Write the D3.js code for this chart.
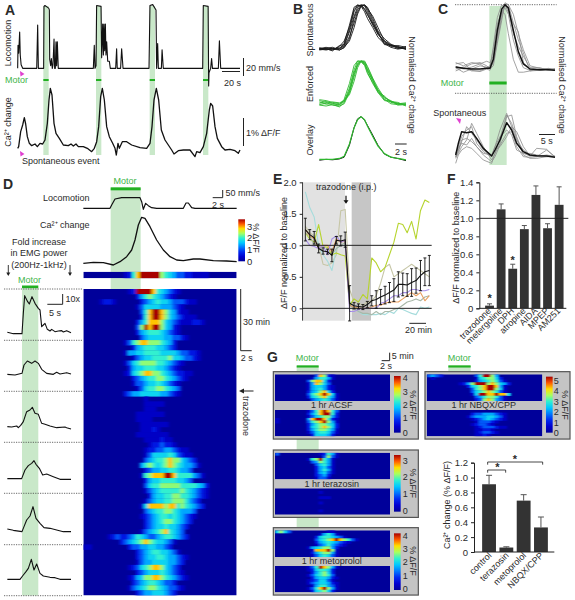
<!DOCTYPE html>
<html><head><meta charset="utf-8">
<script src="https://cdn.jsdelivr.net/npm/d3@7"></script>
<style>body{margin:0;background:#fff}text{font-family:"Liberation Sans",Arial,sans-serif;fill:#2a2a2a}</style>
</head><body><script>
// ---- A: [time s, mm/s] and [sample, amplitude]
const locoA=[[0,0],[.4,26],[1.2,17],[2.3,41],[3,15],[4,4],[5.8,0],[22,0],[23.1,49],[23.9,0],[28.9,0],[30,0],[30.4,70],[31.5,71],[35.8,68],[36.6,66],[37,10],[38.1,3],[38.9,11],[40,0],[40.8,4],[42,33],[42.7,0],[43.5,0],[44.3,30],[45,3],[45.8,30],[46.9,0],[87.4,0],[88.5,26],[89.3,0],[90.5,3],[91.2,71],[96.3,70],[97,12],[98.2,50],[99,15],[99.7,50],[100.5,20],[101.3,50],[102,15],[102.8,30],[104,8],[105.9,8],[107,0],[113.2,0],[114.3,22],[115,0],[118.9,0],[120.1,22],[121.7,0],[151.7,0],[152.8,71],[156,72],[159.8,66],[160.5,0],[161.7,28],[162.5,0],[166,0],[166.8,21],[168.2,0],[213.7,0],[214.4,71],[220,70],[220.6,-20],[221,-5],[222.9,0],[224,11],[225,0],[231.8,0],[233,31],[234.5,0],[256.8,0]];
const caA=[[0,-5],[3,0],[9,45],[15,65],[20,87],[24,68],[29,30],[35,10],[42,3],[52,8],[59,0],[67,10],[75,8],[82,20],[89,70],[94,140],[98,175],[103,155],[109,70],[115,40],[125,25],[137,5],[152,3],[160,8],[167,2],[175,8],[182,0],[197,0],[209,-5],[222,-15],[230,-5],[237,15],[243,60],[249,150],[254,175],[260,140],[267,60],[275,30],[285,10],[292,-5],[296,-25],[301,10],[305,-5],[314,15],[327,15],[342,5],[367,-3],[387,-5],[397,10],[403,60],[409,140],[416,175],[423,140],[431,50],[442,20],[452,5],[462,-10],[469,-22],[482,-12],[497,-10],[517,-10],[532,-30],[537,-15],[547,-18],[557,0],[567,40],[575,110],[579,130],[585,122],[592,60],[599,25],[612,0],[622,-10],[637,-8],[652,-12],[662,-20],[667,-10]];
const motorA=[[130,146],[288,304],[449,465],[609,625]];
// ---- B
const tB=[-7.26,-6.1,-5,-3.8,-3,-2.1,-1.3,-.7,-.1,.5,1,1.9,2.8,3.9,5,6.2,7.6];
const spont1=[.02,0,.03,.05,.1,.4,.75,.95,1,.98,.85,.6,.4,.15,.1,.05,.04];
const spont2=[.04,.03,.02,0,.05,.25,.7,.9,1,1,.9,.65,.35,.2,.1,.08,.02];
const spont3=[0,.02,0,.08,.2,.5,.9,.98,1,.92,.8,.55,.35,.18,.08,.1,.06];
const spont4=[.03,.06,.02,.03,.08,.3,.6,.85,.98,1,.92,.75,.5,.2,.12,.03,.08];
const spont5=[.05,.01,.04,.02,.15,.55,.95,1,.97,.85,.7,.5,.28,.14,.06,.02,.05];
const spont6=[.02,.04,.06,0,.06,.2,.5,.8,.97,1,.95,.7,.42,.25,.13,.07,.01];
const spont7=[.01,.03,-.02,.1,.12,.45,.85,1,.98,.9,.78,.58,.38,.12,.11,.06,.03];
const enf1=[.12,.08,.02,0,.05,.3,.7,.95,1,.95,.75,.5,.3,.12,.1,.05,.02];
const enf2=[.06,.1,.06,.03,.1,.4,.8,1,1,.92,.8,.55,.35,.2,.1,.06,.04];
const enf3=[.02,0,.03,-.02,.08,.35,.75,.9,1,.98,.85,.6,.3,.22,.08,.05,.07];
const enf4=[.14,.12,.08,.05,.12,.25,.55,.85,1,1,.88,.62,.4,.18,.12,.02,.03];
const enf5=[.09,.04,.05,.02,.15,.5,.9,1,.98,.9,.72,.52,.33,.15,.05,.03,.05];
const enf6=[.03,.06,.09,.07,.12,.3,.65,.92,1,.96,.8,.58,.36,.14,.1,.08,0];
const overBlack=[.01,.03,.02,.04,.08,.35,.75,.95,1,.92,.8,.58,.35,.15,.08,.05,0];
const overGreen=[.03,.03,.03,.05,.1,.38,.75,.93,1,.93,.78,.55,.33,.16,.08,.05,.02];
// ---- C
const tCt=[497,520,545,570,590,600,610,622,635,645,655,670,685,700,720,750,775,795];
const cTopMean=[.03,.01,0,0,.01,.01,.15,.6,.93,1,.95,.6,.27,.08,0,-.01,-.01,-.02];
const cTop1=[.1,.05,.1,.08,0,.02,.35,.8,1,.95,.85,.45,.2,.02,-.02,-.02,0,0];
const cTop2=[.02,-.05,0,.05,.03,.02,.1,.45,.8,1,1,.85,.55,.3,.05,.01,0,-.02];
const cTop3=[0,.03,-.03,-.03,.02,.05,.3,.7,.9,.85,.55,.15,-.05,-.05,-.03,0,0,-.02];
const cTop4=[-.03,.02,.08,.1,.05,0,.05,.4,.75,1.03,1,.72,.45,.25,-.03,-.02,0,0];
const cTop5=[.04,0,.03,.08,.12,.1,.2,.55,.88,1,.88,.7,.58,.1,0,-.01,.01,-.02];
const cTop6=[.08,.1,-.02,-.04,0,-.02,.12,.5,.85,.98,.92,.55,.35,.2,.02,.02,-.02,0];
const tCb=[497,505,515,530,545,560,580,605,615,630,650,665,680,700,720,740,770,795];
const cBotMean=[.05,.4,.75,.72,.75,.55,.25,.02,.2,.5,1.02,.8,.4,.15,.05,.03,.02,-.02];
const cBot1=[0,.3,.6,.8,.9,.4,.15,0,.3,.8,1.3,.9,.5,.2,.05,0,.2,0];
const cBot2=[-.05,.1,.3,.5,1,.7,.3,-.1,.1,.4,1.2,1.25,.6,.1,.02,.25,.22,-.02];
const cBot3=[-.02,.2,.5,.55,.45,.3,.05,-.15,0,.35,.7,.75,.3,0,-.02,0,.05,0];
const cBot4=[.1,.25,.4,.35,.55,.3,.1,.05,.3,.6,.8,.65,.2,.1,.1,.05,.02,0];
const cBot5=[-.2,.05,.2,.3,.25,.1,-.1,-.2,.1,.55,1.25,1,.55,.05,-.05,-.05,0,0];
const cBot6=[0,.15,.45,.9,.7,.5,.2,.05,.2,.3,.6,.9,.75,.3,.02,.02,0,.02];
// ---- D
const locoD=[[0,0],[80,0],[85,10],[95,28],[115,32],[170,32],[175,20],[180,-3],[187,15],[195,8],[205,2],[220,0],[300,0],[308,16],[315,16],[325,2],[335,0],[460,0]];
const caD=[[0,0],[30,3],[60,2],[90,-5],[110,5],[130,20],[145,40],[155,70],[165,115],[175,138],[185,135],[200,110],[220,70],[240,40],[260,20],[280,10],[300,8],[330,13],[350,13],[390,8],[430,7],[460,5]];
const stripD="00000000001268999997654332211110000000";
const emg1=[[0,4],[18,0],[44,0],[48,61],[52,114],[61,96],[66,89],[74,111],[83,91],[93,76],[98,71],[103,21],[108,26],[113,31],[120,13],[128,8],[133,13],[143,6],[153,8],[163,9],[168,5],[178,9],[191,3]];
const emg2=[[0,2],[23,0],[44,5],[50,30],[60,42],[73,35],[83,42],[93,35],[103,17],[118,5],[138,2],[148,8],[158,3],[178,7],[191,3]];
const emg3=[[0,3],[13,2],[28,5],[33,0],[40,7],[48,18],[58,48],[68,53],[75,61],[83,43],[93,40],[103,13],[113,10],[128,5],[148,0],[173,2],[178,0],[191,-4]];
const emg4=[[0,2],[43,2],[53,28],[63,41],[73,48],[80,56],[86,45],[96,33],[106,13],[118,16],[138,8],[158,0],[191,0]];
const emg5=[[0,8],[18,4],[44,0],[50,15],[58,35],[68,47],[77,75],[86,40],[98,25],[110,12],[128,10],[148,5],[168,0],[191,0]];
const emg6=[[0,0],[38,0],[48,13],[56,23],[63,33],[72,60],[80,28],[88,46],[98,18],[108,10],[128,6],[143,5],[158,0],[191,0]];
const emgBase=[161,285,443,598,755,898];
const heatD=["000000000001299998654321","00000000000002467654321","00001221000000234565543332110","000000000000013555544432100","00000000000000368998754211","0000000000000026899875432111","00000000000002468887543211122100","000000000000037989975421","00000000000002456665432100","00000000000000345555443321","00000000001367887776542","00000000000024566655432","000000000014455666655554332210","00000000000013455666675543321","0000000000135677776654321","000000000002455666554321","000000000012567887765432211","00000000000023456677654321","0000000000001334556543210","000000000000013566776543","000000000023445555544321","00000000000000010000000000","0000000000000001111100","000000000000000111","000000000000011111110","00000000000001111","000000000000001111111","0000000000000011121","000000000000011111111","0000000000000001111211","00000000000000001223221","00000000000000012233443211","000000000000000135555653211","0000000000000003456678775432","00000000000000467656787654431","000000000000000234455665443","000000000000001678889986666431","000000000000000245566665543","0000000000000003566777776666542","00000000000000013456666676543210","0000000000000000245566776654321","00000000000000013455667776432","000000000000001588887886765432","0000000000000003456677654443","0000000000000012345665654321","000000000000000234567765432","00000000000000023455655432","0000000000000013456786543","00000012322346543345665432","00000000023456787655431","1100000000023344554432","000000000000023456655431","00000000000002345566544321","0000000000000134455554432","000000000001235678875432","0000000000000234555654321","00000000000124577887654321","00000000000023456654332","0000000000013456776543321","00000000000002344555432"];
// ---- E
const meanE=[1.25,1.17,1.12,.95,.91,.90,.84,1.08,1.07,1.09,.08,.04,.03,.02,.06,.12,.14,.18,.21,.25,.29,.38,.38,.37,.41,.44,.52,.58,.60];
const errE=[.18,.08,.1,.07,.05,.04,.1,.06,.08,.12,.28,.05,.04,.04,.05,.08,.14,.12,.14,.16,.18,.2,.18,.18,.22,.2,.24,.22,.24];
const lineLime=[1.2,1.1,1.05,1.33,.98,.97,.85,.88,.85,.83,.05,.15,.1,.22,.15,.8,.72,.58,.65,.85,1.05,1.35,1.33,1.2,1.38,1.1,1.55,1.72,1.68];
const lineSand=[1.3,1.2,1.15,1,.7,.68,.72,.85,1.55,1.57,.3,.1,.08,.05,.1,.12,.2,.4,.65,.7,.5,.55,.6,.65,.7,.65,.6,.55,.5];
const lineCyan=[1.85,1.6,1.45,1,.85,.75,.6,.95,1,1,.1,0,-.05,-.1,-.1,-.1,-.1,-.08,-.1,-.05,-.08,0,-.02,-.05,-.08,-.1,.02,0,.02];
const lineOrange=[1.25,1.15,1.1,.95,1,1,.9,1.1,1.05,1.07,.05,.02,0,0,0,.02,.05,.05,.08,.1,.1,.1,.15,.2,.25,.2,.25,.12,.2];
const linePurple=[1.1,1,.98,.95,1,.85,1.1,1.15,1.05,1.08,-.05,-.05,-.02,0,0,0,0,.08,.1,.15,.2,.2,.25,.25,.3,.3,.28,.28,.3];
const lineSage=[1.2,1.15,1,1,.9,.9,.85,.95,1,1.05,.05,0,-.05,-.08,-.08,-.1,-.05,-.1,-.05,-.05,-.02,0,.05,.1,.12,.15,.12,.18,.2];
const ticksE=[0,.5,1,1.5,2];
// ---- F
const catsF=["trazodone","metergoline","DPH","atropine","AIDA","MPEP","AM251"];
const valsF=[.03,1.10,.44,.88,1.26,.89,1.15];
const topsF=[.05,1.16,.49,.92,1.36,.94,1.35];
const ticksF=[0,.2,.4,.6,.8,1,1.2,1.4];
// ---- G
const catsG=["control","terazosin","metoprolol","NBQX/CPP"];
const valsG=[.91,.06,.69,.33];
const topsG=[1.03,.07,.77,.47];
const ticksG=[0,.2,.4,.6,.8,1,1.2];
const acsfTop=["00000000003872100","00000000014664100","00000000378852000","00000000148753000","00000000145542100","00000000145642100","00000000245785200","00000000367898510","00000000256786410","00000000034565310"];
const acsfBot=["00000000136898630","00000000246899620","00000000135677420","10000000489986210","10000000367897410","00000000246776520","00000000256787520","00000000246776410","00000000135665310","00000000025554200"];
const nbqxTop=["34320000000036997400000","01000000000015677520000","00000000000024567631000","00000000124799978754200","00000000002567899841000","00000000000367899751000","00000000000356787631000","00000000000159988988500","00000000000034677631000","00000000000023787431000"];
const nbqxBot=["0","00000000000233444321000","00000000001344455431000","00000000000123454321000","00000000000013332100000","00000000000123321000","00000000000012333211000","00000000000011221000","00000000000012332100","00000000000011210000"];
const teraTop=["30000000000126410","00000000000037310","00000000167964100","00000000034764100","00000000003564100","00000000002453100","00000000002464100","00000000002453100","00000000002342000","00000000001331000"];
const teraBot=["0","00000000000100","0","000000000001110","0","00000000000100","0","0","000000000001","0"];
const metoTop=["57530000000001100","00000000000146410","00000000002566543100","00000000003567898763100","00000000002456543210","00000000001346432100","00000000145677420","00000000018889710","00000000024677410","00000000013565310"];
const metoBot=["00000000136987410","00000000125665200","00000000024675200","00000000135676300","00000000024554210","00000000123553100","00000000134554210","00000000014664310","00000000136897410","00000000025675200"];
const levelMap=[0,.8,1.6,2.6,3.6,4.3,5,5.8,7.2,9];

// ---- helpers
const LG="#c9e8c9", MG="#22b022", MT="#3fb54a", MA="#e040d0";
const svg=d3.select("body").append("svg").attr("width",575).attr("height",600);
const jet=d3.scaleLinear().domain([0,1,2,3,4,5,6,7,8,9]).range(["#00009a","#0000d0","#0028f0","#0078ff","#00c8ff","#30f0d0","#a8ff60","#ffe000","#ff5a00","#a80000"]).clamp(true);
const txt=(x,y,s,o={})=>{const t=svg.append("text").attr("x",x).attr("y",y).text(s).attr("font-size",o.size||9).attr("text-anchor",o.anchor||"start");
  if(o.rot!==undefined)t.attr("transform",`rotate(${o.rot} ${x} ${y})`);if(o.color)t.style("fill",o.color);if(o.bold)t.attr("font-weight","bold");return t;};
const vtxt=(x,y,s,o={})=>txt(x,y,s,{anchor:"middle",rot:-90,...o});
const dtxt=(x,y,s,o={})=>txt(x,y,s,{anchor:"middle",rot:90,...o});
const seg=(x1,y1,x2,y2,c="#222",w=1,dash)=>{const l=svg.append("line").attr("x1",x1).attr("y1",y1).attr("x2",x2).attr("y2",y2).attr("stroke",c).attr("stroke-width",w);if(dash)l.attr("stroke-dasharray",dash);return l;};
const box=(x,y,w,h,c)=>svg.append("rect").attr("x",x).attr("y",y).attr("width",w).attr("height",h).attr("fill",c);
const trace=(data,xs,ys,c="#111",w=1)=>svg.append("path").attr("fill","none").attr("stroke",c).attr("stroke-width",w).attr("stroke-linejoin","round").attr("d",d3.line().x(d=>xs(d[0])).y(d=>ys(d[1]))(data));
const tri=(x,y,pts)=>svg.append("path").attr("fill",MA).attr("d",d3.line()(pts.map(p=>[x+p[0],y+p[1]]))+"Z");
const defs=svg.append("defs");
let uid=0;
function heat(rows,x0,y0,w,h,cols,sd){
  const id="h"+(++uid);
  defs.append("clipPath").attr("id","c"+id).append("rect").attr("x",x0).attr("y",y0).attr("width",w).attr("height",h);
  defs.append("filter").attr("id","f"+id).attr("x","-5%").attr("y","-5%").attr("width","110%").attr("height","110%").append("feGaussianBlur").attr("stdDeviation",sd);
  const cx=d3.scaleBand().domain(d3.range(cols)).range([x0,x0+w]);
  const cy=d3.scaleBand().domain(d3.range(rows.length)).range([y0,y0+h]);
  const outer=svg.append("g").attr("clip-path",`url(#c${id})`);
  outer.append("rect").attr("x",x0).attr("y",y0).attr("width",w).attr("height",h).attr("fill",jet(0));
  const g=outer.append("g").attr("filter",`url(#f${id})`);
  rows.forEach((r,i)=>{r.padEnd(cols,"0").split("").forEach((c,j)=>{ if(c==="0")return;
    g.append("rect").attr("x",cx(j)).attr("y",cy(i)).attr("width",cx.bandwidth()+.6).attr("height",cy.bandwidth()+.3).attr("fill",jet(levelMap[+c]));});});
}
function cbar(x,y,w,h){
  const id="g"+(++uid);
  const gr=defs.append("linearGradient").attr("id",id).attr("x1",0).attr("y1",1).attr("x2",0).attr("y2",0);
  d3.range(10).forEach(i=>gr.append("stop").attr("offset",i/9).attr("stop-color",jet(i)));
  svg.append("rect").attr("x",x).attr("y",y).attr("width",w).attr("height",h).attr("fill",`url(#${id})`);
}

// ---- A
const ax=d3.scaleLinear().domain([0,256.8]).range([53/3,240]);
const ay=d3.scaleLinear().domain([0,20]).range([205/3,205/3-17.7]);
const ax2=d3.scaleLinear().domain([0,667]).range([53/3,240]);
const ay2=d3.scaleLinear().domain([0,85]).range([440/3,355/3]);
motorA.forEach(([a,b])=>{box(a/3,6,(b-a)/3,149,LG);box(a/3,79,(b-a)/3,2,MG);});
trace(locoA,ax,ay,"#111",1.1);
trace(caA,ax2,ay2,"#111",1.3);
txt(5,15,"A",{size:14,bold:true});
vtxt(11,43,"Locomotion");vtxt(11,122,"Ca²⁺ change");
txt(5,83,"Motor",{color:MT});
txt(22,164,"Spontaneous event");
txt(246,71,"20 mm/s");txt(224,86,"20 s");txt(246,136,"1% ΔF/F");
seg(243.5,58,243.5,76);seg(222,71.5,240,71.5);seg(243.5,118,243.5,146);
tri(20,71,[[0,0],[4.5,3],[0.5,5.5]]);tri(20,151,[[0,0],[4.5,3],[0.5,5.5]]);

// ---- B
const X=z=>290+z/3;
const bx=d3.scaleLinear().domain([-7.26,7.6]).range([X(88),X(348)]);
const yb=(b,p)=>d3.scaleLinear().domain([0,1]).range([b/3,p/3]);
const by1=yb(150,15),by2=yb(318,183),by3=yb(482,350);
const Z=(t,v)=>d3.zip(t,v);
[spont1,spont2,spont3,spont4,spont5,spont6,spont7].forEach(s=>trace(Z(tB,s),bx,by1,"#1a1a1a",.9));
[enf1,enf2,enf3,enf4,enf5,enf6].forEach(s=>trace(Z(tB,s),bx,by2,"#2eb82e",.9));
trace(Z(tB,overBlack),bx,by3,"#111",1);trace(Z(tB,overGreen),bx,by3,"#2eb82e",1.2);
txt(293,14,"B",{size:14,bold:true});
vtxt(X(70),30,"Spontaneous");vtxt(X(70),84,"Enforced");vtxt(X(70),140,"Overlay");
dtxt(X(358),85,"Normalised Ca²⁺ change");
seg(X(315),144,X(350),144);txt(X(315),155,"2 s");

// ---- C
box(X(598),6,(650-598)/3,159,LG);
seg(X(495),4.7,X(800),4.7,"#444",.8,"1.2 1.2");seg(X(495),93.3,X(800),93.3,"#444",.8,"1.2 1.2");
const cx=d3.scaleLinear().domain([497,795]).range([X(497),X(795)]);
const cy1=d3.scaleLinear().domain([0,1]).range([207/3,14/3]);
const cy2=d3.scaleLinear().domain([0,1]).range([470/3,370/3]);
[cTop1,cTop2,cTop3,cTop4,cTop5,cTop6].forEach(s=>trace(Z(tCt,s),cx,cy1,"#8c8c8c",.8));
trace(Z(tCt,cTopMean),cx,cy1,"#111",1.5);
[cBot1,cBot2,cBot3,cBot4,cBot5,cBot6].forEach(s=>trace(Z(tCb,s),cx,cy2,"#8c8c8c",.8));
trace(Z(tCb,cBotMean),cx,cy2,"#111",1.5);
box(X(598),81.5,(650-598)/3,3,MG);
txt(438,14,"C",{size:14,bold:true});
txt(X(452),86,"Motor",{color:MT});
txt(X(430),116,"Spontaneous");
tri(X(498),118,[[0,0],[5,1],[4,6]]);
dtxt(X(808),85,"Normalised Ca²⁺ change");
seg(X(747),134.5,X(795),134.5);txt(X(752),144,"5 s");

// ---- D top
const DY=z=>175+z/3;
box(332/3,DY(40),30,DY(342)-DY(40),LG);
box(332/3,DY(37),30,3,MG);
txt(125,184,"Motor",{color:MT,anchor:"middle"});
txt(3,189,"D",{size:14,bold:true});
const dx=d3.scaleLinear().domain([0,460]).range([250/3,710/3]);
const dyL=d3.scaleLinear().domain([0,32]).range([DY(100),DY(68)]);
const dyC=d3.scaleLinear().domain([0,138]).range([DY(265),DY(127)]);
trace(locoD,dx,dyL,"#111",1.2);trace(caD,dx,dyC,"#111",1.3);
txt(43,201,"Locomotion");txt(40,228,"Ca²⁺ change");
txt(39,245,"Fold increase",{anchor:"middle"});
txt(39,256,"in EMG power",{anchor:"middle"});
txt(39,268,"(200Hz-1kHz)",{anchor:"middle"});
const arrow=(x,y1,y2)=>{seg(x,y1,x,y2-1,"#222",.9);svg.append("path").attr("fill","#222").attr("d",d3.line()([[x-2,y2-3.5],[x+2,y2-3.5],[x,y2]])+"Z");};
arrow(8.3,265,276);arrow(70,265,276);
seg(222.7,DY(45),222.7,DY(68));seg(212.7,DY(68),222.7,DY(68));
txt(225.5,196,"50 mm/s");txt(212,208,"2 s");
cbar(238.3,219.3,6.7,42);
[["3",230],["2",241],["1",253],["0",265]].forEach(([s,y])=>txt(247,y,s,{size:9.5}));
dtxt(253,238,"% ΔF/F",{size:9});
heat([stripD],250/3,DY(290),460/3,20/3,38,"1.2 0");

// ---- D left + main heat
box(22,288,16.3,307.5,LG);
box(22,285.5,16.3,2.6,MG);
txt(29.5,283,"Motor",{color:MT,anchor:"middle"});
[289,340.3,391.3,442.3,493.3,544.7,595.7].forEach(y=>seg(4,y,83,y,"#444",.8,"1.2 1.2"));
const ex=d3.scaleLinear().domain([0,191]).range([22/3,213/3]);
[emg1,emg2,emg3,emg4,emg5,emg6].forEach((e,i)=>{
  const ey=d3.scaleLinear().domain([0,31]).range([280+emgBase[i]/3,280+(emgBase[i]-31)/3]);
  trace(e,ex,ey,"#111",1.1);
});
seg(188/3,294,188/3,304.3);seg(142/3,304.3,188/3,304.3);
txt(65.5,302,"10x");txt(49,316,"5 s");
heat(heatD,250/3,289,460/3,306.5,38,"1.5 0.6");
seg(240.7,289,240.7,350.7);seg(240.7,350.7,251.7,350.7);
txt(243,325,"30 min");txt(240.7,361,"2 s");
seg(243,391,253.5,391,"#222",1);svg.append("path").attr("fill","#222").attr("d",d3.line()([[239,391],[244,388.5],[244,393.5]])+"Z");
dtxt(243,416,"trazodone");

// ---- E
const EY=z=>175+z/3;
box(X(42),EY(22),(165-42)/3,(437-22)/3,"#e2e2e2");
box(X(185),EY(22),(243-185)/3,(437-22)/3,"#c6c6c6");
const ex2=d3.scaleLinear().domain([0,28]).range([X(46),X(418)]);
const ey2=d3.scaleLinear().domain([-.2,2]).range([EY(437.8),EY(22)]);
const idx=d3.range(meanE.length);
[[lineSand,"#c6c6a6"],[lineCyan,"#a6dcdc"],[lineLime,"#b6d42e"],[lineSage,"#a8b8a8"],[lineOrange,"#e8a060"],[linePurple,"#a890e8"]].forEach(([s,c])=>trace(Z(idx,s),ex2,ey2,c,1.1));
seg(X(38),ey2(1),X(425),ey2(1),"#222",1);seg(X(38),ey2(0),X(425),ey2(0),"#222",1);
trace(Z(idx,meanE),ex2,ey2,"#111",1.1);
idx.forEach(i=>{const a=ex2(i);seg(a,ey2(meanE[i]-errE[i]),a,ey2(meanE[i]+errE[i]),"#111",.9);seg(a-1.5,ey2(meanE[i]+errE[i]),a+1.5,ey2(meanE[i]+errE[i]),"#111",.9);seg(a-1.5,ey2(meanE[i]-errE[i]),a+1.5,ey2(meanE[i]-errE[i]),"#111",.9);});
const axisStyle=g=>{g.selectAll("text").attr("font-size",9.5);g.selectAll("line,path").attr("stroke","#222");};
svg.append("g").attr("transform",`translate(${X(38)},0)`).call(d3.axisLeft(ey2).tickValues(ticksE).tickSizeOuter(0).tickSize(3).tickFormat(d=>d===0?"0":d3.format(".1f")(d))).call(axisStyle).call(g=>g.select(".domain").attr("d",`M0,${EY(22)}V${EY(437)}`));
txt(273,184,"E",{size:14,bold:true});
vtxt(287,253,"ΔF/F normalized to baseline");
txt(X(78),EY(46),"trazodone (i.p.)");
seg(X(168),EY(62),X(168),EY(80),"#111",1.2);svg.append("path").attr("fill","#111").attr("d",d3.line()([[X(168)-2.5,EY(76)],[X(168)+2.5,EY(76)],[X(168),EY(86)]])+"Z");
seg(X(358),EY(445),X(408),EY(445));txt(X(345),EY(475),"20 min");

// ---- F
const fb=d3.scaleBand().domain(catsF).range([X(577),X(829)]).padding(.24);
const fy=d3.scaleLinear().domain([0,1.4]).range([EY(400),EY(22)]);
catsF.forEach((c,i)=>{
  const a=fb(c),m=a+fb.bandwidth()/2;
  seg(m,fy(valsF[i]),m,fy(topsF[i]),"#555",1);seg(m-2.5,fy(topsF[i]),m+2.5,fy(topsF[i]),"#555",1);
  box(a,fy(valsF[i]),fb.bandwidth(),fy(0)-fy(valsF[i]),"#333");
  txt(m+2,EY(409),c,{anchor:"end",rot:-45});
});
seg(X(568),fy(1),X(835),fy(1),"#222",1);
seg(X(568),fy(0),X(829),fy(0),"#222",1);
svg.append("g").attr("transform",`translate(${X(568)},0)`).call(d3.axisLeft(fy).tickValues(ticksF).tickSizeOuter(0).tickSize(3).tickFormat(d=>d===0?"0":d3.format(".1f")(d))).call(axisStyle);
txt(447,184,"F",{size:14,bold:true});
vtxt(X(508),EY(218),"ΔF/F normalized to baseline");
txt(fb(catsF[0])+fb.bandwidth()/2,EY(381),"*",{anchor:"middle",size:11,bold:true});
txt(fb(catsF[2])+fb.bandwidth()/2,EY(266),"*",{anchor:"middle",size:11,bold:true});

// ---- G
const GX=z=>265+z/3,GY=z=>340+z/3;
[[78,95],[297,330],[530,563]].forEach(([a,b])=>box(GX(95),GY(a),66/3,(b-a)/3,LG));
box(GX(550),GY(78),67/3,(95-78)/3,LG);
box(GX(95),GY(76),66/3,2.2,MG);box(GX(550),GY(76),67/3,2.2,MG);
txt(GX(127),GY(62),"Motor",{color:MT,anchor:"middle"});txt(GX(583),GY(62),"Motor",{color:MT,anchor:"middle"});
txt(267,362,"G",{size:14,bold:true});
seg(GX(374),GY(38),GX(374),GY(62));seg(GX(350),GY(62),GX(374),GY(62));
txt(GX(380),GY(58),"5 min");txt(GX(345),GY(86),"2 s");
function panel(zx,zy,w,innerW,top,bot,label,lz,barx,bary,barh,labs,lbx,ptx,cols){
  svg.append("rect").attr("x",GX(zx)).attr("y",GY(zy)).attr("width",w/3).attr("height",67.4).attr("fill","#c4c4c4").attr("stroke","#555").attr("stroke-width",1.2);
  heat(top,GX(zx+5),GY(zy+8),innerW/3,80/3,cols,"1.1 0.4");
  heat(bot,GX(zx+5),GY(zy+115),innerW/3,79/3,cols,"1.1 0.4");
  txt(GX(lz),GY(zy+110),label,{anchor:"middle"});
  cbar(GX(barx),GY(bary),20/3,barh/3);
  labs.forEach(([s,z])=>txt(GX(lbx),GY(z),s,{size:9}));
  dtxt(GX(ptx),GY(zy+100),"% ΔF/F");
}
panel(25,95,435,345,acsfTop,acsfBot,"1 hr ACSF",200,387,108,170,[["4",122],["3",166],["2",204],["1",244],["0",289]],413,436,29);
panel(480,95,435,347,nbqxTop,nbqxBot,"1 hr NBQX/CPP",656,843,110,168,[["5",131],["4",163],["3",195],["2",226],["1",258],["0",289]],866,892,29);
panel(25,330,435,345,teraTop,teraBot,"1 hr terazosin",200,387,345,170,[["3",372],["2",419],["1",471],["0",522]],413,436,29);
panel(25,563,435,345,metoTop,metoBot,"1 hr metoprolol",200,387,580,170,[["4",596],["3",636],["2",676],["1",716],["0",756]],413,436,29);

const gb=d3.scaleBand().domain(catsG).range([GX(641),GX(859)]).padding(.2);
const gy=d3.scaleLinear().domain([0,1.2]).range([GY(636),GY(368)]);
catsG.forEach((c,i)=>{
  const a=gb(c),m=a+gb.bandwidth()/2;
  seg(m,gy(valsG[i]),m,gy(topsG[i]),"#555",1);seg(m-3,gy(topsG[i]),m+3,gy(topsG[i]),"#555",1);
  box(a,gy(valsG[i]),gb.bandwidth(),gy(0)-gy(valsG[i]),"#333");
  txt(m+3,GY(648),c,{anchor:"end",rot:-45});
});
seg(GX(627),gy(0),GX(868),gy(0),"#222",1);
svg.append("g").attr("transform",`translate(${GX(627)},0)`).call(d3.axisLeft(gy).tickValues(ticksG).tickSizeOuter(0).tickSize(3).tickFormat(d=>d===0?"0":d3.format(".1f")(d))).call(axisStyle);
vtxt(GX(556),GY(495),"Ca²⁺ change (% ΔF/F)");
const brk=(a,b,z)=>{seg(GX(a),GY(z),GX(b),GY(z),"#333",.9);seg(GX(a),GY(z),GX(a),GY(z+8),"#333",.9);seg(GX(b),GY(z),GX(b),GY(z+8),"#333",.9);};
brk(668,722,390);brk(668,833,366);
txt(GX(697),GY(392),"*",{anchor:"middle",size:11,bold:true});
txt(GX(750),GY(368),"*",{anchor:"middle",size:11,bold:true});
</script></body></html>
